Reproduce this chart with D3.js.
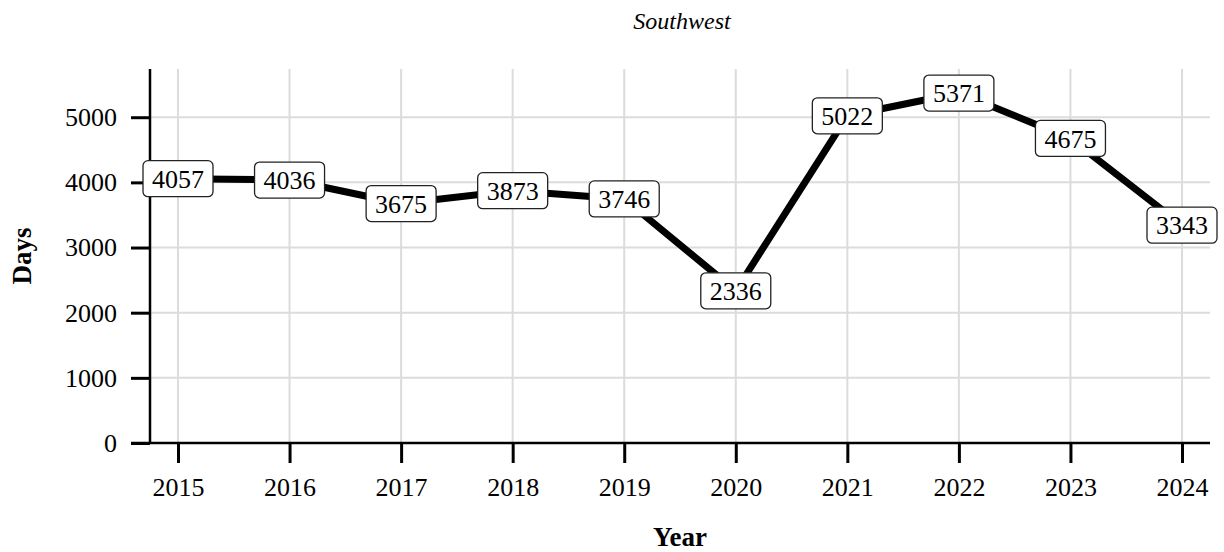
<!DOCTYPE html>
<html><head><meta charset="utf-8">
<script src="https://cdn.jsdelivr.net/npm/d3@7"></script>
<style>
body{margin:0;background:#fff;}
text{font-family:"Liberation Serif","DejaVu Serif",serif;fill:#000;}
</style></head>
<body>
<svg id="chart" width="1224" height="552"></svg>
<script>
const years = [2015,2016,2017,2018,2019,2020,2021,2022,2023,2024];
const days = [4057,4036,3675,3873,3746,2336,5022,5371,4675,3343];
const yTicks = [0,1000,2000,3000,4000,5000];
const title = "Southwest";
const xTitle = "Year";
const yTitle = "Days";

const svg = d3.select("#chart");
const pLeft = 150, pRight = 1210, pTop = 69, pBottom = 443;
const x = d3.scalePoint().domain(years).range([178, 1182]);
const y = d3.scaleLinear().domain([0, 5740]).range([pBottom, pTop]);

// grid
svg.append("g").selectAll("line").data(yTicks.filter(d=>d>0)).join("line")
  .attr("x1", pLeft).attr("x2", pRight).attr("y1", d=>y(d)).attr("y2", d=>y(d))
  .attr("stroke", "#dcdcdc").attr("stroke-width", 2);
svg.append("g").selectAll("line").data(years).join("line")
  .attr("x1", d=>x(d)).attr("x2", d=>x(d)).attr("y1", pTop).attr("y2", pBottom)
  .attr("stroke", "#dcdcdc").attr("stroke-width", 2);

// axes
const xAxis = svg.append("g").attr("transform", `translate(0,${pBottom})`)
  .call(d3.axisBottom(x).tickSize(20).tickPadding(15));
xAxis.select(".domain").remove();
xAxis.append("line").attr("x1", 131).attr("x2", pRight).attr("stroke", "#000").attr("stroke-width", 2.5);
xAxis.selectAll(".tick line").attr("stroke-width", 3);
xAxis.selectAll(".tick text").attr("font-size", 26).attr("font-family", "Liberation Serif");

const yAxis = svg.append("g").attr("transform", `translate(${pLeft},0)`)
  .call(d3.axisLeft(y).tickValues(yTicks).tickFormat(d3.format("d")).tickSize(19).tickPadding(14));
yAxis.select(".domain").remove();
yAxis.append("line").attr("y1", pTop).attr("y2", pBottom).attr("stroke", "#000").attr("stroke-width", 2.5);
yAxis.selectAll(".tick line").attr("stroke-width", 3);
yAxis.selectAll(".tick text").attr("font-size", 26).attr("font-family", "Liberation Serif");

// line
const data = years.map((yr,i)=>({yr, v: days[i]}));
svg.append("path").datum(data)
  .attr("d", d3.line().x(d=>x(d.yr)).y(d=>y(d.v)))
  .attr("fill", "none").attr("stroke", "#000").attr("stroke-width", 7).attr("stroke-linejoin", "round");

// labels
const lab = svg.append("g").selectAll("g").data(data).join("g")
  .attr("transform", d=>`translate(${x(d.yr)},${y(d.v)})`);
lab.append("rect").attr("x", -35).attr("y", -18).attr("width", 70).attr("height", 36)
  .attr("rx", 5).attr("fill", "#fff").attr("stroke", "#222").attr("stroke-width", 1.3);
lab.append("text").attr("text-anchor", "middle").attr("dy", "0.35em")
  .attr("font-size", 26).text(d=>d.v);

// titles
svg.append("text").attr("x", 682).attr("y", 29).attr("text-anchor", "middle")
  .attr("font-size", 24).attr("font-style", "italic").attr("font-family", "Liberation Serif").text(title);
svg.append("text").attr("x", 680).attr("y", 546).attr("text-anchor", "middle")
  .attr("font-size", 27).attr("font-weight", "bold").text(xTitle);
svg.append("text").attr("transform", "translate(31,256) rotate(-90)").attr("text-anchor", "middle")
  .attr("font-size", 27).attr("font-weight", "bold").text(yTitle);
</script>
</body></html>
